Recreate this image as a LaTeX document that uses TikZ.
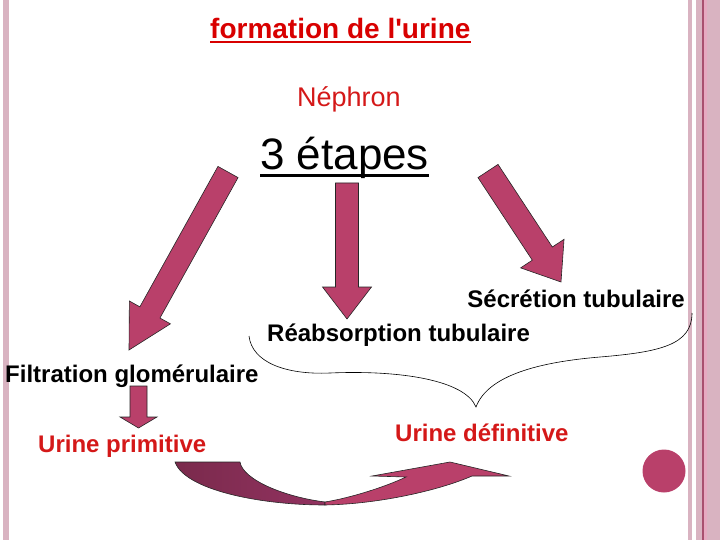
\documentclass[tikz,border=0pt]{standalone}
\usepackage{fontspec}
\setmainfont{Liberation Sans}
\usepackage{xcolor}
\usepackage{tikz}
\usetikzlibrary{calc}
\definecolor{framboise}{HTML}{B9406A}
\definecolor{lie}{HTML}{7A2A4C}
\definecolor{liemid}{HTML}{923260}
\definecolor{rougetitre}{HTML}{D80000}
\definecolor{rougetxt}{HTML}{D41818}
\definecolor{rosebord}{HTML}{D9B3C1}
\definecolor{rosevif}{HTML}{E6A9C0}
\definecolor{rosefonce}{HTML}{A8506E}
\tikzset{
  lab/.style  ={inner sep=0pt, anchor=base west, font=\fontsize{24}{28}\selectfont\bfseries},
  rlab/.style ={lab, text=rougetxt},
  blk/.style  ={fill=framboise, draw=black!85, line width=0.6pt, line join=miter},
  ul/.style   ={line width=2pt},
  accol/.style={draw=black, line width=0.6pt},
}
\newcommand\blocarrow[5]{%
  \coordinate (#1-n) at ($(#2)!#5!(#1)$);
  \draw[blk] ($(#1)!#3!90:(#2)$) -- ($(#1-n)!#3!90:(#2)$) -- ($(#1-n)!#4!90:(#2)$)
    -- (#2) -- ($(#1-n)!#4!-90:(#2)$) -- ($(#1-n)!#3!-90:(#2)$) -- ($(#1)!#3!-90:(#2)$) -- cycle;
}

\begin{document}
\begin{tikzpicture}[x=1pt, y=-1pt]
  \useasboundingbox (0,0) rectangle (720,540);
  % bords de la diapositive
  \fill[rosebord] (3,0) rectangle (9,540);
  \fill[rosebord] (688,0) rectangle (692,540);
  \fill[rosebord] (696,0) rectangle (720,540);
  \fill[rosefonce] (702,0) rectangle (703.5,540);
  \fill[rosevif] (703.5,0) rectangle (707,540);

  \node[inner sep=0pt, anchor=base west, text=rougetitre, font=\fontsize{28}{32}\selectfont\bfseries] (titre) at (210,39) {formation de l\textquotesingle urine};
  \draw[ul, rougetitre] ($(titre.base west)+(0,3)$) -- ($(titre.base east)+(0,3)$);
  \node[inner sep=0pt, anchor=base west, text=rougetxt, font=\fontsize{27}{32}\selectfont] (nephron) at (297,107) {Néphron};
  \node[inner sep=0pt, anchor=base west, font=\fontsize{44}{50}\selectfont] (etapes) at (260,170) {3 étapes};
  \draw[line width=3pt] ($(etapes.base west)+(0,5.5)$) -- ($(etapes.base east)+(0,5.5)$);

  \node[lab, anchor=base east] (secretion) at (685,307) {Sécrétion tubulaire};
  \node[lab] (reabs) at (267,341) {Réabsorption tubulaire};
  \node[lab] (filtr) at (5,382) {Filtration glomérulaire};
  \node[rlab] (uprim) at (38,452) {Urine primitive};
  \node[rlab] (udef) at (395,441) {Urine définitive};

  \coordinate (fg-a) at (228,172);   \coordinate (fg-b) at (129,350);
  \coordinate (fm-a) at (347,183);   \coordinate (fm-b) at (347,319);
  \coordinate (fd-a) at (488,171);   \coordinate (fd-b) at (561,282);
  \coordinate (fp-a) at (138.5,386); \coordinate (fp-b) at (138.5,428);
  \blocarrow{fg-a}{fg-b}{11.5pt}{23.5pt}{43pt}
  \blocarrow{fm-a}{fm-b}{11.5pt}{24.5pt}{32pt}
  \blocarrow{fd-a}{fd-b}{12pt}{26pt}{34pt}
  \blocarrow{fp-a}{fp-b}{8.5pt}{18.5pt}{11pt}

  \draw[accol] (249,336) .. controls (252,362) and (285,375) .. (330,373)
    .. controls (400,370) and (465,380) .. (476,407)
    .. controls (488,375) and (540,362) .. (600,357)
    .. controls (660,352) and (692,345) .. (692,313);

  % fleche courbe
  \path[draw=black!85, line width=0.6pt, left color=lie, right color=liemid]
    (175,462) -- (240,462) .. controls (243,480) and (285,497) .. (325,502)
    -- (325,505) .. controls (260,505) and (185,490) .. (175,462) -- cycle;
  \path[draw=black!85, line width=0.6pt, fill=framboise]
    (325,502) .. controls (350,498) and (385,487) .. (406,477) -- (372,476) -- (450,462)
    -- (509,476) -- (472,476) .. controls (440,490) and (380,504) .. (325,505) -- cycle;

  \node[circle, fill=framboise, minimum size=43pt, inner sep=0pt] (puce) at (664,471) {};
\end{tikzpicture}
\end{document}
